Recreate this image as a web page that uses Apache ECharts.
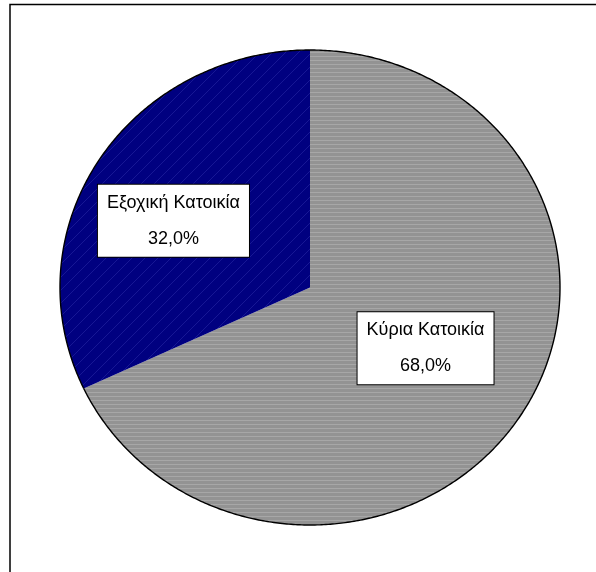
<!DOCTYPE html>
<html>
<head>
<meta charset="utf-8">
<script src="https://cdn.jsdelivr.net/npm/echarts@6/dist/echarts.min.js"></script>
<style>
  html, body { margin: 0; padding: 0; background: #ffffff; }
  #chart { width: 596px; height: 572px; }
</style>
</head>
<body>
<div id="chart"></div>
<script>
// Dwellings by type: main residence vs. holiday home
const categories = ['Κύρια Κατοικία', 'Εξοχική Κατοικία'];
const shares = [68.0, 32.0];

// Pie layout: slightly wide ellipse, first slice starts at 12 o'clock, clockwise
const PIE = { cx: 310, cy: 287.5, rx: 250, ry: 237.5 };
const labelShift = [[10, -3], [-31, -3]];

const fmtPct = v => v.toFixed(1).replace('.', ',') + '%';

// Fill textures for the two slices
function makePattern(w, h, draw) {
  const c = document.createElement('canvas');
  c.width = w; c.height = h;
  draw(c.getContext('2d'), w, h);
  return { image: c, repeat: 'repeat' };
}
const greyFill = makePattern(4, 4, (g, w, h) => {
  g.fillStyle = '#939393'; g.fillRect(0, 0, w, h);
  g.fillStyle = '#a7a7a7'; g.fillRect(0, 0, w, 1);
});
const blueFill = makePattern(13, 13, (g, w, h) => {
  g.fillStyle = '#000080'; g.fillRect(0, 0, w, h);
  g.strokeStyle = 'rgba(110,110,230,0.3)'; g.lineWidth = 0.7;
  g.beginPath(); g.moveTo(-1, h + 1); g.lineTo(w + 1, -1); g.stroke();
});
const sliceFills = [greyFill, blueFill];

const total = shares.reduce((s, v) => s + v, 0);

function ellipsePoint(deg, k) {
  const t = deg * Math.PI / 180;
  return [PIE.cx + k * PIE.rx * Math.cos(t), PIE.cy - k * PIE.ry * Math.sin(t)];
}

function renderSlice(params, api) {
  const i = params.dataIndex;
  const before = shares.slice(0, i).reduce((s, v) => s + v, 0);
  const value = api.value(0);
  const a0 = 90 - before / total * 360;
  const a1 = a0 - value / total * 360;

  const arc = [];
  const steps = Math.max(2, Math.ceil((a0 - a1) / 0.5));
  for (let s = 0; s <= steps; s++) arc.push(ellipsePoint(a0 + (a1 - a0) * s / steps, 1));
  const poly = [[PIE.cx, PIE.cy]].concat(arc);

  const mid = (a0 + a1) / 2;
  const lp = ellipsePoint(mid, 0.5);

  return {
    type: 'group',
    children: [
      { type: 'polygon', shape: { points: poly }, style: { fill: sliceFills[i], stroke: null } },
      { type: 'polyline', shape: { points: arc }, style: { stroke: '#000', lineWidth: 1.4, fill: null }, z2: 5 },
      {
        type: 'text',
        x: lp[0] + labelShift[i][0],
        y: lp[1] + labelShift[i][1],
        z2: 100,
        style: {
          text: categories[i] + '\n\n' + fmtPct(value),
          fill: '#000',
          font: '18px "Liberation Sans", Arial, sans-serif',
          lineHeight: 18,
          align: 'center',
          verticalAlign: 'middle',
          backgroundColor: '#fff',
          borderColor: '#000',
          borderWidth: 1,
          padding: [10, 9, 8, 9]
        }
      }
    ]
  };
}

const chart = echarts.init(document.getElementById('chart'), null, { renderer: 'canvas' });
chart.setOption({
  animation: false,
  graphic: [{
    type: 'rect',
    shape: { x: 10, y: 4.5, width: 700, height: 700 },
    style: { fill: 'none', stroke: '#000', lineWidth: 1.5 },
    silent: true
  }],
  series: [{
    type: 'custom',
    coordinateSystem: 'none',
    data: shares.map((v, i) => ({ name: categories[i], value: [v] })),
    renderItem: renderSlice,
    silent: true
  }]
});
</script>
</body>
</html>
